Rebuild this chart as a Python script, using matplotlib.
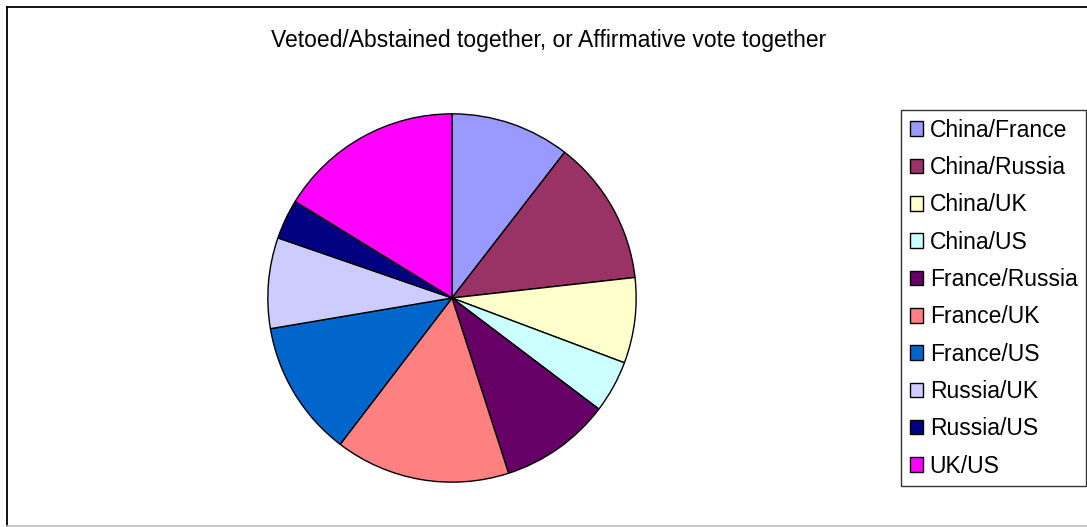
import matplotlib
matplotlib.use("Agg")
import matplotlib.pyplot as plt
from matplotlib.lines import Line2D

plt.rcParams['font.family'] = ['Liberation Sans', 'DejaVu Sans']

pairs = ['China/France', 'China/Russia', 'China/UK', 'China/US', 'France/Russia',
         'France/UK', 'France/US', 'Russia/UK', 'Russia/US', 'UK/US']
# share of votes (degrees of the pie, read clockwise from 12 o'clock)
shares = [37.7, 45.9, 27.0, 16.5, 35.0, 55.3, 43.0, 28.65, 12.55, 58.4]
colors = ['#9999FF', '#993366', '#FFFFCC', '#CCFFFF', '#660066',
          '#FF8080', '#0066CC', '#CCCCFF', '#000080', '#FF00FF']

W, H = 1087, 527
fig = plt.figure(figsize=(W / 100, H / 100), dpi=100)

# outer chart frame
fig.add_artist(Line2D([6.5 / W, 6.5 / W], [0, 1 - 6.5 / H], color='black', lw=1.3, transform=fig.transFigure))
fig.add_artist(Line2D([6.5 / W, 1], [1 - 6.5 / H, 1 - 6.5 / H], color='black', lw=1.3, transform=fig.transFigure))
fig.add_artist(Line2D([6.5 / W, 1], [1.5 / H, 1.5 / H], color='#c0c0c0', lw=1.2, transform=fig.transFigure))

fig.text(549 / W, 1 - 40 / H, 'Vetoed/Abstained together, or Affirmative vote together',
         ha='center', va='center', fontsize=16.5)

cx, cy, r = 452, 298, 186
ax = fig.add_axes([(cx - r) / W, (H - cy - r) / H, 2 * r / W, 2 * r / H])
wedges, _ = ax.pie(shares, colors=colors, startangle=90, counterclock=False,
                   wedgeprops=dict(edgecolor='black', linewidth=1.0))
ax.set_xlim(-1.01, 1.01)
ax.set_ylim(-1.01, 1.01)
ax.set_aspect('equal')
ax.axis('off')

leg = fig.legend(wedges, pairs, loc='upper left', bbox_to_anchor=(901 / W, 1 - 110 / H),
                 bbox_transform=fig.transFigure, borderaxespad=0, fontsize=16.5,
                 frameon=True, fancybox=False, edgecolor='black', shadow=False,
                 handlelength=0.57, handleheight=0.6, handletextpad=0.3,
                 borderpad=0.38, labelspacing=0.625)
leg.get_frame().set_linewidth(1.0)

fig.savefig('out.png', dpi=100)
